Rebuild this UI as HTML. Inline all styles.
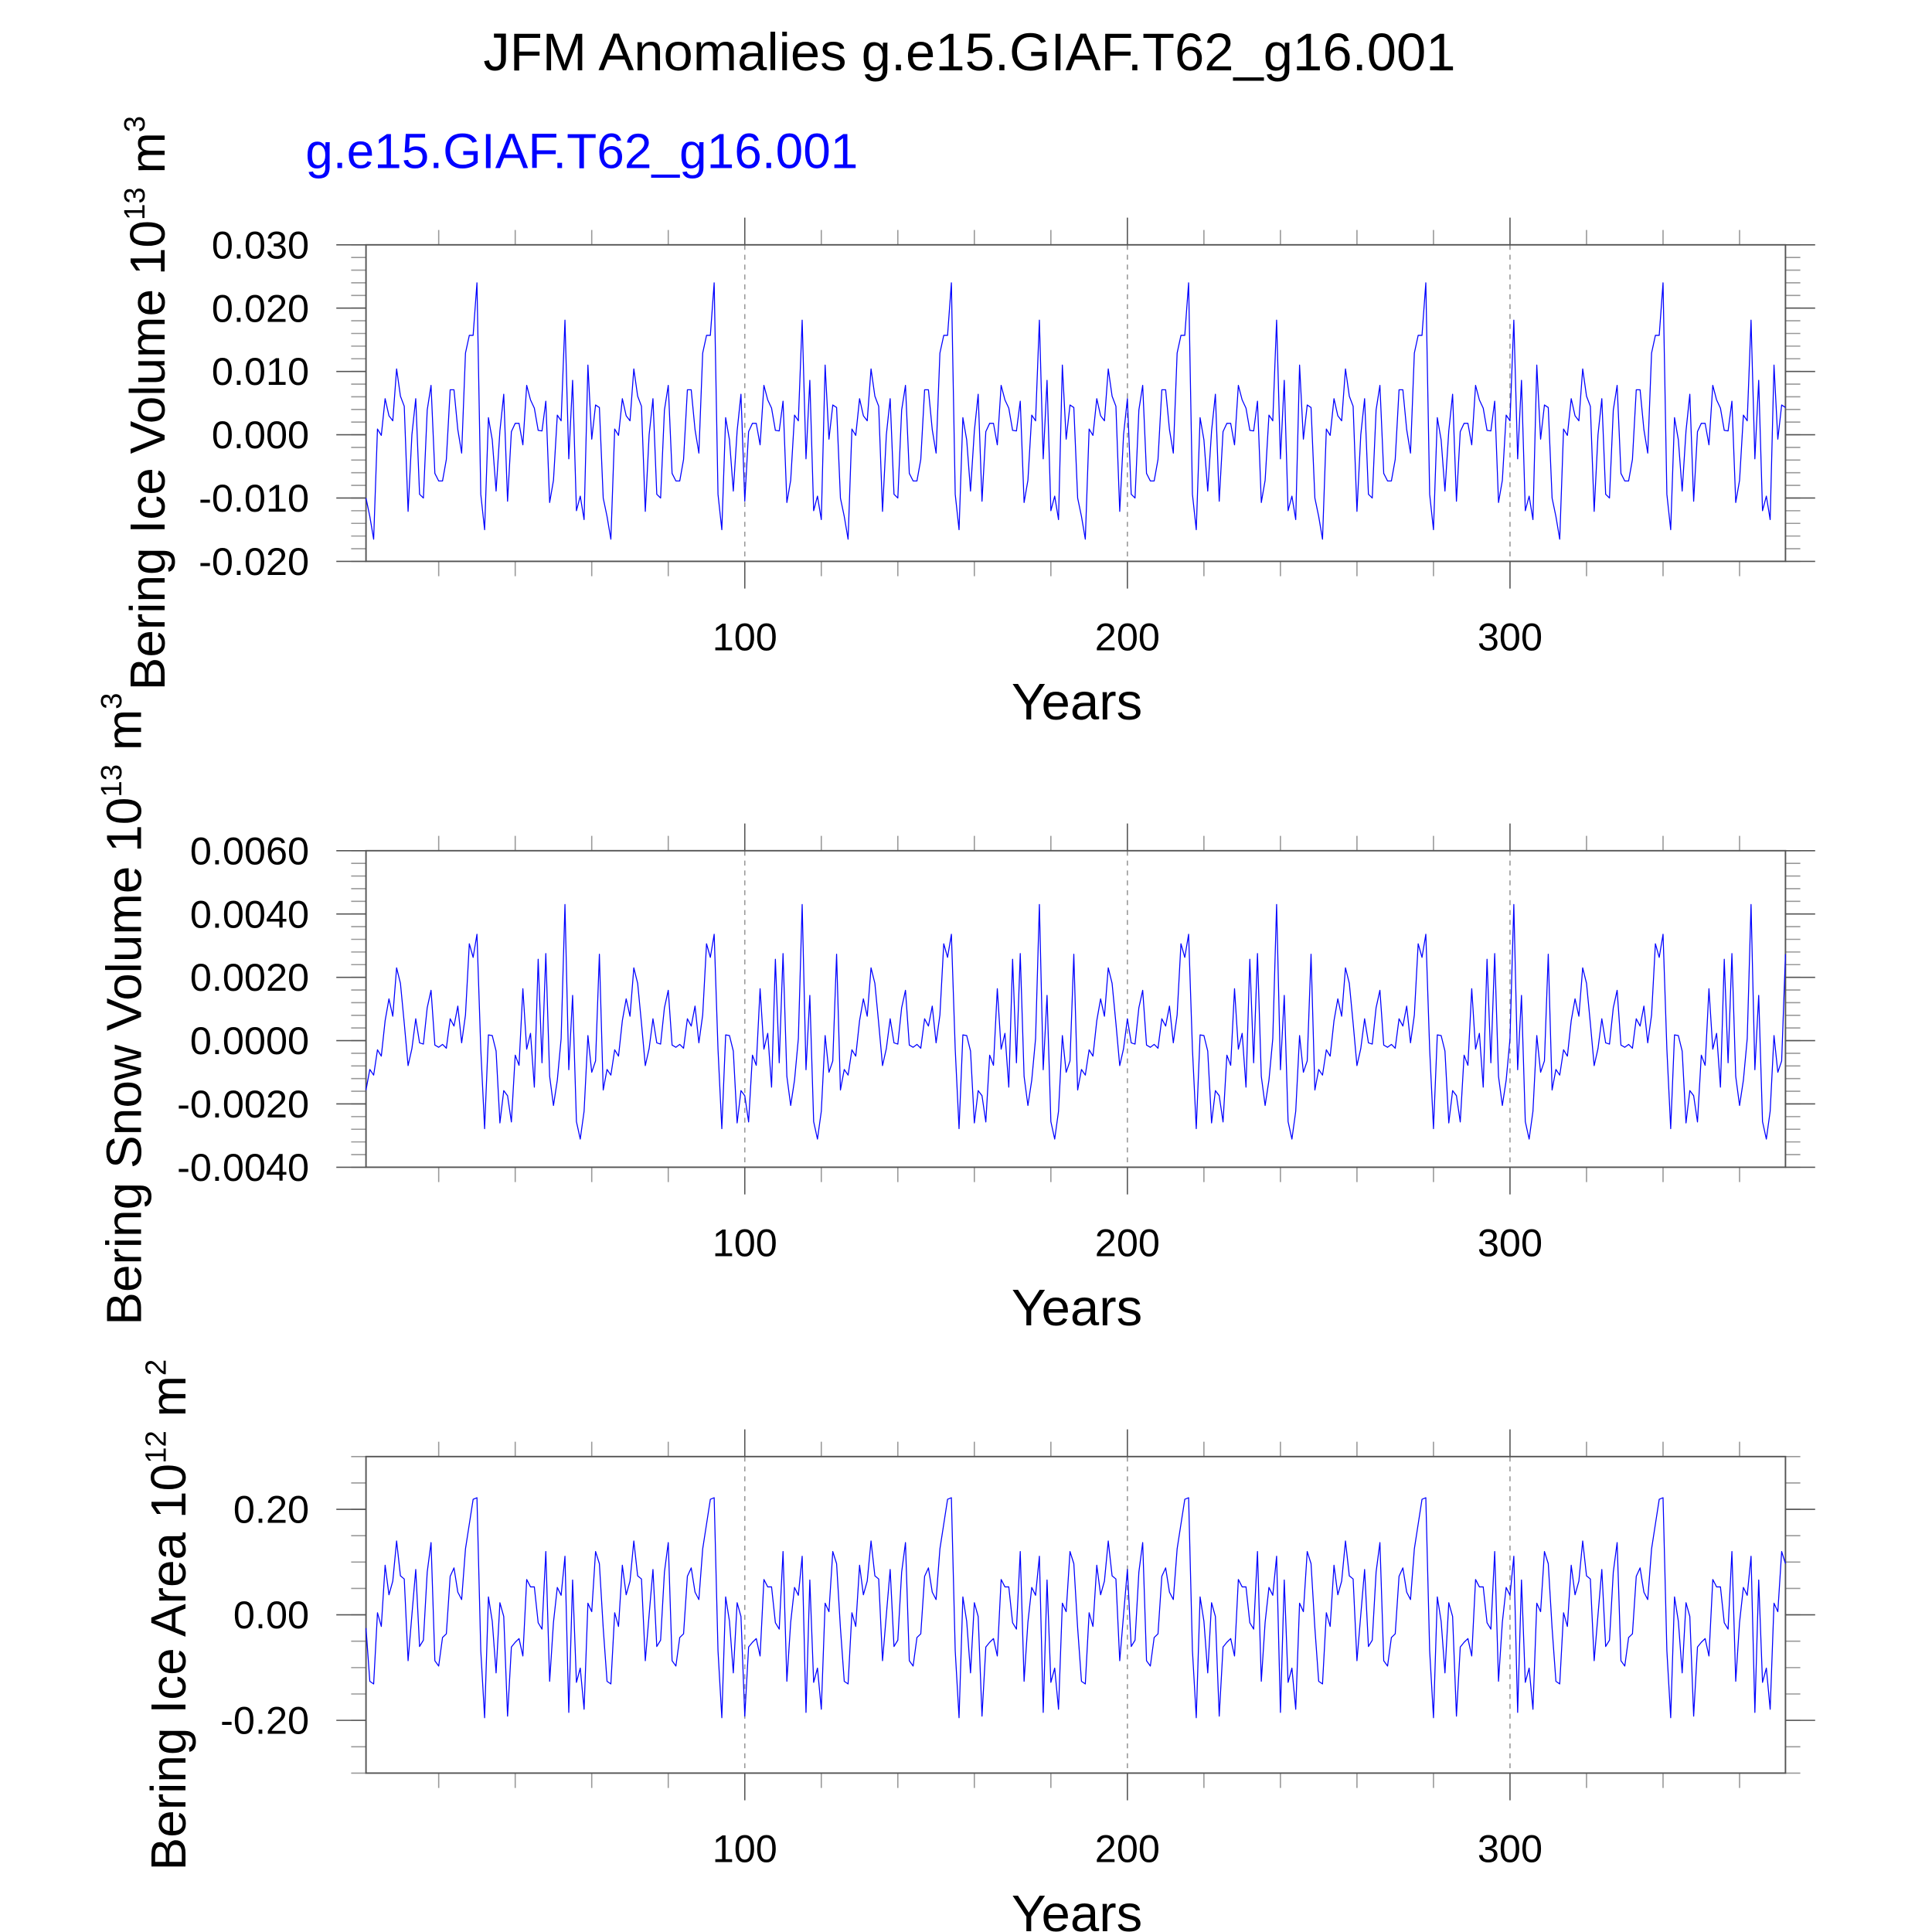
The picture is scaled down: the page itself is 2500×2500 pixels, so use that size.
<!DOCTYPE html>
<html><head><meta charset="utf-8"><style>
html,body{margin:0;padding:0;background:#fff;}
svg{display:block;}
text{font-family:"Liberation Sans",Arial,sans-serif;}
</style></head><body>
<svg id="chart" xmlns="http://www.w3.org/2000/svg" width="2500" height="2500" viewBox="0 0 1562.5 1562.5">
<rect x="0" y="0" width="1562.5" height="1562.5" fill="#fff"/>
<text x="784" y="57" font-size="43" text-anchor="middle">JFM Anomalies g.e15.GIAF.T62_g16.001</text>
<text x="247" y="136" font-size="40" fill="#0000ff">g.e15.GIAF.T62_g16.001</text>
<g id="panels"></g>
</svg>
<script>
// ---- data (one 62-year forcing cycle, repeated 6 times in the run) ----
const years = [];
for (let y = 1; y <= 372; y++) years.push(y);
// Ice volume, units of 1e-3 (x 10^13 m^3)
const iceVolumeCycle = [-10.0,-12.9,-16.5,0.9,-0.1,5.7,3.0,2.2,10.4,6.1,4.5,-12.1,0.0,5.7,-9.4,-10.0,3.9,7.8,-6.1,-7.3,-7.3,-3.9,7.1,7.1,0.8,-2.9,12.9,15.7,15.7,24.0,-9.4,-15.0,2.7,-0.8,-8.9,0.6,6.4,-10.5,0.5,1.8,1.8,-1.6,7.8,5.5,4.2,0.7,0.6,5.3,-10.7,-7.2,3.1,2.2,18.1,-3.8,8.6,-12.0,-9.7,-13.4,11.0,-0.7,4.7,4.3];
// Snow volume, units of 1e-4 (x 10^13 m^3)
const snowVolumeCycle = [-15.6,-9.1,-10.9,-2.9,-4.9,6.3,13.2,7.7,23.0,18.1,5.5,-7.9,-2.5,6.9,-0.7,-1.1,10.4,15.9,-1.4,-2.1,-1.2,-2.4,6.9,4.6,10.9,-0.7,8.1,30.6,26.3,33.6,-2.7,-27.8,1.8,1.6,-3.3,-26.0,-15.8,-17.4,-25.7,-4.6,-7.8,16.4,-2.7,2.3,-14.7,25.7,-7.0,27.5,-11.3,-20.5,-12.5,0.6,43.0,-9.2,14.3,-25.6,-31.1,-22.3,1.6,-10.0,-6.4,27.3];
// Ice area, units of 1e-2 (x 10^12 m^2)
const iceAreaCycle = [-2.5,-12.6,-13.1,0.4,-2.2,9.4,3.8,6.4,14.0,7.4,6.8,-8.7,0.0,8.6,-6.0,-4.8,8.1,13.7,-8.7,-9.7,-4.3,-3.6,7.3,8.9,4.3,2.9,12.5,17.2,21.9,22.2,-6.8,-19.5,3.4,-1.2,-11.0,2.3,-0.3,-19.2,-6.1,-5.2,-4.5,-7.8,6.7,5.3,5.3,-1.5,-2.7,12.0,-12.6,-1.4,5.2,3.7,11.1,-18.5,6.6,-12.8,-10.1,-17.9,2.2,0.6,12.0,9.7];
const iceVolume = [].concat(iceVolumeCycle, iceVolumeCycle, iceVolumeCycle, iceVolumeCycle, iceVolumeCycle, iceVolumeCycle);
const snowVolume = [].concat(snowVolumeCycle, snowVolumeCycle, snowVolumeCycle, snowVolumeCycle, snowVolumeCycle, snowVolumeCycle);
const iceArea = [].concat(iceAreaCycle, iceAreaCycle, iceAreaCycle, iceAreaCycle, iceAreaCycle, iceAreaCycle);
const xTickValues = [100, 200, 300];
const xTickLabels = ["100", "200", "300"];
const iceVolTicks = [-20, -10, 0, 10, 20, 30];
const iceVolTickLabels = ["-0.020", "-0.010", "0.000", "0.010", "0.020", "0.030"];
const snowVolTicks = [-40, -20, 0, 20, 40, 60];
const snowVolTickLabels = ["-0.0040", "-0.0020", "0.0000", "0.0020", "0.0040", "0.0060"];
const iceAreaTicks = [-20, 0, 20];
const iceAreaTickLabels = ["-0.20", "0.00", "0.20"];

const NS = "http://www.w3.org/2000/svg";
const X0 = 296, X1 = 1444, XMIN = 1, XMAX = 372;
function xScale(v) { return X0 + (v - XMIN) / (XMAX - XMIN) * (X1 - X0); }
function el(tag, attrs, parent) {
  const e = document.createElementNS(NS, tag);
  for (const k in attrs) e.setAttribute(k, attrs[k]);
  parent.appendChild(e);
  return e;
}
const root = document.getElementById("panels");

function panel(cfg) {
  const g = el("g", {}, root);
  
  
  const top = cfg.top, bot = cfg.top + 256;
  const yScale = v => bot - (v - cfg.ymin) / (cfg.ymax - cfg.ymin) * (bot - top);
  xTickValues.forEach(v => {
    const l = el("line", {x1: xScale(v), x2: xScale(v), y1: top, y2: bot, stroke: "#999", "stroke-width": 1, "stroke-dasharray": "4,4"}, g);
    
    
  });
  for (let v = 20; v <= 360; v += 20) {
    if (v % 100 === 0) continue;
    const x = xScale(v);
    el("line", {x1: x, x2: x, y1: top, y2: top - 12, stroke: "#999", "stroke-width": 1}, g);
    el("line", {x1: x, x2: x, y1: bot, y2: bot + 12, stroke: "#999", "stroke-width": 1}, g);
  }
  xTickValues.forEach((v, i) => {
    const x = xScale(v);
    el("line", {x1: x, x2: x, y1: top, y2: top - 22, stroke: "#555", "stroke-width": 1}, g);
    el("line", {x1: x, x2: x, y1: bot, y2: bot + 22, stroke: "#555", "stroke-width": 1}, g);
    const t = el("text", {x: x, y: bot + 72, "font-size": 31.5, "text-anchor": "middle"}, g);
    t.textContent = xTickLabels[i];
    
    
  });
  for (let v = cfg.ymin; v <= cfg.ymax + 1e-9; v += cfg.minor) {
    const y = yScale(v);
    el("line", {x1: X0, x2: X0 - 12, y1: y, y2: y, stroke: "#999", "stroke-width": 1}, g);
    el("line", {x1: X1, x2: X1 + 12, y1: y, y2: y, stroke: "#999", "stroke-width": 1}, g);
  }
  cfg.ticks.forEach((v, i) => {
    const y = yScale(v);
    el("line", {x1: X0, x2: X0 - 24, y1: y, y2: y, stroke: "#555", "stroke-width": 1}, g);
    el("line", {x1: X1, x2: X1 + 24, y1: y, y2: y, stroke: "#555", "stroke-width": 1}, g);
    const t = el("text", {x: 250, y: y + 11, "font-size": 31.5, "text-anchor": "end"}, g);
    t.textContent = cfg.tickLabels[i];
    
    
  });
  const frame = el("rect", {x: X0, y: top, width: X1 - X0, height: bot - top, fill: "none", stroke: "#555", "stroke-width": 1.2}, g);
  
  
  let d = "";
  cfg.values.forEach((v, i) => {
    d += (i ? "L" : "M") + xScale(years[i]).toFixed(2) + "," + yScale(v).toFixed(2);
  });
  const p = el("path", {d: d, fill: "none", stroke: "#0000ff", "stroke-width": 0.8, "stroke-linejoin": "round"}, g);
  
  
  const xt = el("text", {x: 871, y: bot + 128, "font-size": 42, "text-anchor": "middle"}, g);
  xt.textContent = "Years";
  
  
  const cy = (top + bot) / 2;
  const yt = el("text", {x: cfg.titleX, y: cy, "font-size": 40, "text-anchor": "middle", transform: "rotate(-90 " + cfg.titleX + " " + cy + ")"}, g);
  
  
  yt.appendChild(document.createTextNode(cfg.title + " 10"));
  const s1 = el("tspan", {dy: -16, "font-size": 24}, yt); s1.textContent = cfg.exp;
  const s2 = el("tspan", {dy: 16, "font-size": 40}, yt); s2.textContent = " m";
  const s3 = el("tspan", {dy: -16, "font-size": 24}, yt); s3.textContent = cfg.pow;
}

panel({name: "ice-volume", top: 198, ymin: -20, ymax: 30, minor: 2, ticks: iceVolTicks, tickLabels: iceVolTickLabels, values: iceVolume, title: "Bering Ice Volume", exp: "13", pow: "3", titleX: 133});
panel({name: "snow-volume", top: 688, ymin: -40, ymax: 60, minor: 4, ticks: snowVolTicks, tickLabels: snowVolTickLabels, values: snowVolume, title: "Bering Snow Volume", exp: "13", pow: "3", titleX: 114});
panel({name: "ice-area", top: 1178, ymin: -30, ymax: 30, minor: 5, ticks: iceAreaTicks, tickLabels: iceAreaTickLabels, values: iceArea, title: "Bering Ice Area", exp: "12", pow: "2", titleX: 150});
</script>
</body></html>
